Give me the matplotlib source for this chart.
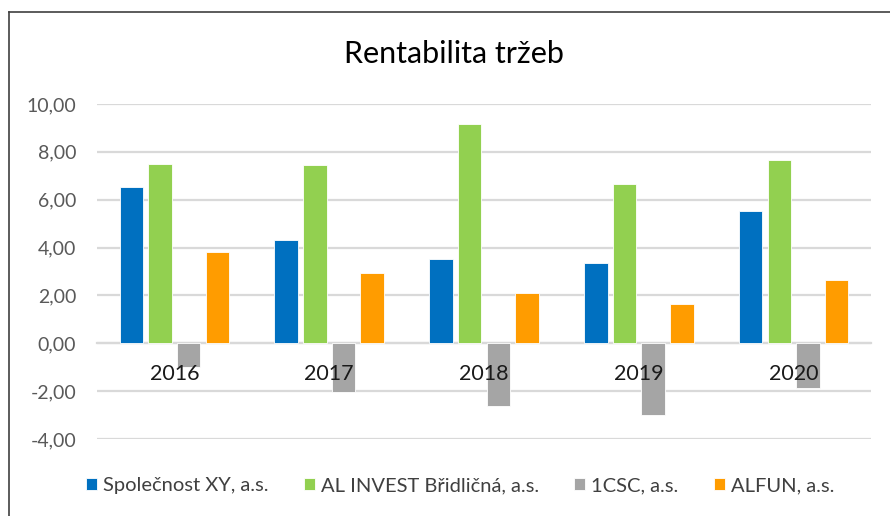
import matplotlib
matplotlib.use("Agg")
import matplotlib.pyplot as plt
import numpy as np
from matplotlib.lines import Line2D

plt.rcParams['font.family'] = ['Lato', 'DejaVu Sans']

years = ["2016", "2017", "2018", "2019", "2020"]
series_names = ["Společnost XY, a.s.", "AL INVEST Břidličná, a.s.", "1CSC, a.s.", "ALFUN, a.s."]
spolecnost_xy = [6.54, 4.33, 3.51, 3.34, 5.52]
al_invest = [7.49, 7.44, 9.18, 6.64, 7.65]
csc = [-1.00, -2.02, -2.62, -2.98, -1.85]
alfun = [3.80, 2.92, 2.10, 1.63, 2.65]
colors = ["#0070C0", "#92D050", "#A5A5A5", "#FF9C00"]
yticks = [-4, -2, 0, 2, 4, 6, 8, 10]

fig = plt.figure(figsize=(8.9, 5.16), dpi=100)
ax = fig.add_axes([97/890, 1-439/516, (871-97)/890, (439-104)/516])

x = np.arange(len(years))
step = 0.185
width = 0.152
data = [spolecnost_xy, al_invest, csc, alfun]
for i, (vals, name, c) in enumerate(zip(data, series_names, colors)):
    ax.bar(x + (i - 1.5) * step, vals, width, color=c, label=name,
           edgecolor='white', linewidth=0.6, zorder=3)

ax.set_xlim(-0.5, len(years) - 0.5)
ax.set_ylim(-4, 10)
ax.set_yticks(yticks)
ax.set_yticklabels([f"{v:.2f}".replace('.', ',') for v in yticks],
                   color='#595959', fontsize=14)
ax.tick_params(axis='y', length=0, pad=15)
ax.grid(axis='y', color='#D9D9D9', linewidth=1.6, zorder=0)
ax.set_axisbelow(True)
for s in ['top', 'right', 'left']:
    ax.spines[s].set_visible(False)
ax.spines['bottom'].set_position(('data', 0))
ax.spines['bottom'].set_color('#D9D9D9')
ax.spines['bottom'].set_linewidth(1.6)
ax.set_xticks(x)
ax.set_xticklabels(years, fontsize=15.5, color='#1a1a1a')
ax.tick_params(axis='x', length=0, pad=15)
for lab in ax.get_xticklabels():
    lab.set_zorder(5)
ax.xaxis.set_zorder(5)

fig.text(454/890, 1-63/516, "Rentabilita tržeb", ha='center', va='baseline',
         fontsize=22, color='#000000')

fig.legend(loc='center', bbox_to_anchor=(460/890, 1-486/516), ncol=4,
           frameon=False, fontsize=14.5, handlelength=0.55, handleheight=0.55,
           handletextpad=0.3, columnspacing=1.75, labelcolor='#404040')

fig.add_artist(Line2D([9/890, 9/890], [0, 1-12/516], transform=fig.transFigure,
                      color='#404040', linewidth=1.2))
fig.add_artist(Line2D([9/890, 1], [1-12/516, 1-12/516], transform=fig.transFigure,
                      color='#404040', linewidth=1.2))

fig.savefig("out.png", dpi=100)
